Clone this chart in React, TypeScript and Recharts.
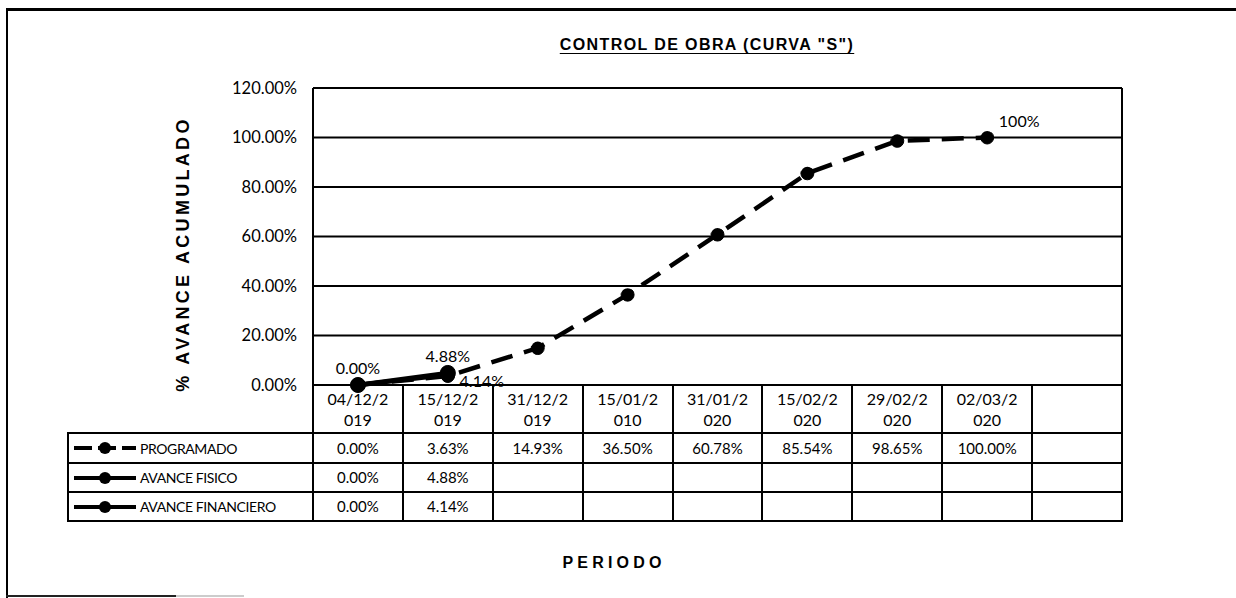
import { LineChart, Line, XAxis, YAxis, CartesianGrid, LabelList } from 'recharts';

const PERIODS = ['04/12/2019', '15/12/2019', '31/12/2019', '15/01/2010', '31/01/2020', '15/02/2020', '29/02/2020', '02/03/2020', ''];
const PROGRAMADO = [0, 3.63, 14.93, 36.5, 60.78, 85.54, 98.65, 100];
const AVANCE_FISICO = [0, 4.88];
const AVANCE_FINANCIERO = [0, 4.14];
const Y_TICKS = [0, 20, 40, 60, 80, 100, 120];

const W = 1236;
const H = 598;
const PLOT_LEFT = 313;
const PLOT_RIGHT = 1122;
const PLOT_TOP = 88;
const PLOT_BOTTOM = 385;
const COL_W = (PLOT_RIGHT - PLOT_LEFT) / PERIODS.length;
const TABLE_LEFT = 68;
const ROW_TOPS = [385, 433, 463, 492, 521];

const FONT = 'Lato, "Open Sans", sans-serif';
const BOLD_FONT = '"Liberation Sans", Arial, sans-serif';

const chartData = PERIODS.map((p, i) => ({
    x: i + 0.5,
    prog: i < PROGRAMADO.length ? PROGRAMADO[i] : null,
    fis: i < AVANCE_FISICO.length ? AVANCE_FISICO[i] : null,
    fin: i < AVANCE_FINANCIERO.length ? AVANCE_FINANCIERO[i] : null,
}));

const pct = (v: number | null | undefined) => (v == null ? '' : v.toFixed(2) + '%');

const rows = [
    { name: 'PROGRAMADO', values: PROGRAMADO, dashed: true },
    { name: 'AVANCE FISICO', values: AVANCE_FISICO, dashed: false },
    { name: 'AVANCE FINANCIERO', values: AVANCE_FINANCIERO, dashed: false },
];

const labelStyle = { fontFamily: FONT, fontSize: 16, fill: '#000' };

function FisLabel(props: any) {
    const { x, y, value } = props;
    if (value == null) return null;
    return (
        <text x={x} y={y - 11} textAnchor="middle" style={labelStyle}>
            {pct(value)}
        </text>
    );
}

function FinLabel(props: any) {
    const { x, y, value, index } = props;
    if (value == null || index === 0) return null;
    return (
        <text x={x + 34} y={y + 12} textAnchor="middle" style={labelStyle}>
            {pct(value)}
        </text>
    );
}

function ProgLabel(props: any) {
    const { x, y, value, index } = props;
    if (index !== PROGRAMADO.length - 1) return null;
    return (
        <text x={x + 32} y={y - 11} textAnchor="middle" style={labelStyle}>
            {Math.round(value)}%
        </text>
    );
}

function LegendKey({ dashed }: { dashed: boolean }) {
    return (
        <svg width={64} height={14} style={{ display: 'block' }}>
            <line x1={1} y1={7} x2={63} y2={7} stroke="#000" strokeWidth={4} strokeDasharray={dashed ? '18 6' : undefined} />
            <circle cx={32} cy={7} r={6} fill="#000" />
        </svg>
    );
}

const line = (x1: number, y1: number, x2: number, y2: number, key: string) => (
    <div
        key={key}
        style={{
            position: 'absolute',
            left: Math.min(x1, x2) - 1,
            top: Math.min(y1, y2) - 1,
            width: Math.abs(x2 - x1) + 2,
            height: Math.abs(y2 - y1) + 2,
            background: '#000',
        }}
    />
);

export default function App() {
    const tableLines: any[] = [];
    // horizontal table lines
    ROW_TOPS.slice(1).forEach((y, i) => tableLines.push(line(TABLE_LEFT, y, PLOT_RIGHT, y, 'h' + i)));
    // vertical table lines
    tableLines.push(line(TABLE_LEFT, ROW_TOPS[1], TABLE_LEFT, ROW_TOPS[4], 'vl'));
    for (let i = 0; i <= PERIODS.length; i++) {
        const x = PLOT_LEFT + i * COL_W;
        tableLines.push(line(x, ROW_TOPS[0], x, ROW_TOPS[4], 'v' + i));
    }

    return (
        <div style={{ position: 'absolute', left: 0, top: 0, width: W, height: H, background: '#fff', overflow: 'hidden' }}>
            {/* outer frame */}
            <div style={{ position: 'absolute', left: 6, top: 8, width: W, height: 588, borderLeft: '2.5px solid #000', borderTop: '3px solid #000' }} />
            <div style={{ position: 'absolute', left: 6, top: 595, width: 170, height: 2, background: '#222' }} />
            <div style={{ position: 'absolute', left: 176, top: 595, width: 68, height: 2, background: '#ccc' }} />

            <div
                style={{
                    position: 'absolute', left: 0, width: 1414, top: 36, textAlign: 'center',
                    fontFamily: BOLD_FONT, fontWeight: 700, fontSize: 16, letterSpacing: 1.4, textDecoration: 'underline',
                    textUnderlineOffset: 3,
                }}
            >
                CONTROL DE OBRA (CURVA "S")
            </div>

            <div
                style={{
                    position: 'absolute', left: 183 - 160, top: 254 - 11, width: 320, height: 22, lineHeight: '22px', textAlign: 'center',
                    transform: 'rotate(-90deg)', fontFamily: BOLD_FONT, fontWeight: 700, fontSize: 18, letterSpacing: 3.3,
                }}
            >
                % AVANCE ACUMULADO
            </div>

            <div
                style={{
                    position: 'absolute', left: 514, width: 200, top: 554, textAlign: 'center',
                    fontFamily: BOLD_FONT, fontWeight: 700, fontSize: 16, letterSpacing: 4.2,
                }}
            >
                PERIODO
            </div>

            <div style={{ position: 'absolute', left: 0, top: 0 }}>
                <LineChart
                    width={W}
                    height={H}
                    data={chartData}
                    margin={{ top: PLOT_TOP, right: W - PLOT_RIGHT, bottom: H - PLOT_BOTTOM, left: PLOT_LEFT - 90 }}
                >
                    <CartesianGrid stroke="#000" strokeWidth={2} />
                    <XAxis
                        dataKey="x"
                        type="number"
                        domain={[0, PERIODS.length]}
                        ticks={PERIODS.map((_, i) => i).concat([PERIODS.length])}
                        tick={false}
                        tickLine={false}
                        axisLine={false}
                        height={0}
                    />
                    <YAxis
                        domain={[0, 120]}
                        ticks={Y_TICKS}
                        width={90}
                        tickFormatter={(v: number) => v.toFixed(2) + '%'}
                        tick={{ fontFamily: FONT, fontSize: 16.5, fill: '#000' }}
                        tickLine={false}
                        axisLine={false}
                        tickSize={0}
                        tickMargin={16}
                        interval={0}
                    />
                    <Line
                        dataKey="prog"
                        stroke="#000"
                        strokeWidth={4.5}
                        strokeDasharray="22 12"
                        dot={{ r: 6.5, fill: '#000', stroke: '#000', strokeWidth: 1 }}
                        isAnimationActive={false}
                    >
                        <LabelList dataKey="prog" content={<ProgLabel />} />
                    </Line>
                    <Line
                        dataKey="fin"
                        stroke="#000"
                        strokeWidth={4.5}
                        dot={{ r: 7, fill: '#000', stroke: '#000', strokeWidth: 1 }}
                        isAnimationActive={false}
                    >
                        <LabelList dataKey="fin" content={<FinLabel />} />
                    </Line>
                    <Line
                        dataKey="fis"
                        stroke="#000"
                        strokeWidth={4.5}
                        dot={{ r: 7.5, fill: '#000', stroke: '#000', strokeWidth: 1 }}
                        isAnimationActive={false}
                    >
                        <LabelList dataKey="fis" content={<FisLabel />} />
                    </Line>
                </LineChart>
            </div>

            {/* data table */}
            {tableLines}
            {PERIODS.map((p, i) => (
                <div
                    key={'d' + i}
                    style={{
                        position: 'absolute', left: PLOT_LEFT + i * COL_W, top: ROW_TOPS[0] + 3, width: COL_W, textAlign: 'center',
                        fontFamily: FONT, fontSize: 16, lineHeight: '21px',
                    }}
                >
                    {p.slice(0, 7)}
                    <br />
                    {p.slice(7)}
                </div>
            ))}
            {rows.map((r, ri) => (
                <div key={r.name}>
                    <div
                        style={{
                            position: 'absolute', left: TABLE_LEFT + 5, top: ROW_TOPS[ri + 1], height: ROW_TOPS[ri + 2] - ROW_TOPS[ri + 1],
                            display: 'flex', alignItems: 'center', gap: 3, fontFamily: FONT, fontSize: 14, letterSpacing: -0.4,
                        }}
                    >
                        <LegendKey dashed={r.dashed} />
                        <span>{r.name}</span>
                    </div>
                    {r.values.map((v, i) => (
                        <div
                            key={i}
                            style={{
                                position: 'absolute', left: PLOT_LEFT + i * COL_W, top: ROW_TOPS[ri + 1], width: COL_W,
                                height: ROW_TOPS[ri + 2] - ROW_TOPS[ri + 1], lineHeight: ROW_TOPS[ri + 2] - ROW_TOPS[ri + 1] + 'px',
                                textAlign: 'center', fontFamily: FONT, fontSize: 15,
                            }}
                        >
                            {pct(v)}
                        </div>
                    ))}
                </div>
            ))}
        </div>
    );
}
